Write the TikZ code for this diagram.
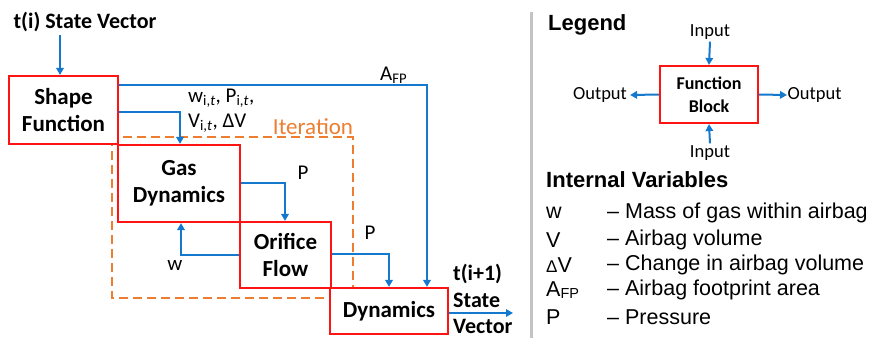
\documentclass[tikz,border=0pt]{standalone}
\usepackage{fontspec}
\setmainfont{Carlito}
\newfontfamily\arialfont{Liberation Sans}
\usetikzlibrary{arrows.meta}
\newcommand\fs[2]{\fontsize{#1bp}{#2bp}\selectfont}
\definecolor{flowblue}{RGB}{20,120,205}
\definecolor{blockred}{RGB}{255,20,20}
\definecolor{iterorange}{RGB}{237,125,49}
\definecolor{divgray}{RGB}{195,195,195}
\tikzset{
  fblock/.style={draw=blockred, line width=2.2bp, fill=white, align=center,
    font=\fs{23}{26.5}\bfseries, inner sep=0pt},
  arr/.style={draw=flowblue, line width=2bp, -{Triangle[length=7bp,width=7.5bp]}},
  lbl/.style={font=\fs{21}{25}, inner sep=0pt},
  vname/.style={font=\arialfont\fs{21.5}{25}, anchor=west, inner sep=0pt},
  ttl/.style={font=\arialfont\fs{22}{26}\bfseries, anchor=west, inner sep=0pt},
}
\begin{document}
\begin{tikzpicture}[x=1bp, y=-1bp]
\useasboundingbox (0,0) rectangle (871,338);

% iteration loop frame
\draw[iterorange, line width=2bp, dash pattern=on 9bp off 5bp] (112,137) rectangle (353,298);
\node[lbl, font=\fs{23}{26}, text=iterorange] (iter) at (313,127) {Iteration};

% function blocks
\node[fblock, minimum width=109bp, minimum height=68bp] (sf) at (63.5,110) {Shape\\Function};
\node[fblock, minimum width=122bp, minimum height=77bp] (gd) at (179,183.5) {Gas\\Dynamics};
\node[fblock, minimum width=91bp, minimum height=66bp] (of) at (285.5,255) {Orifice\\Flow};
\node[fblock, minimum width=118bp, minimum height=46bp] (dy) at (389,311) {Dynamics};

% inputs and outputs of the time step
\node[font=\fs{22}{26}\bfseries, inner sep=3bp] (ti) at (85,22) {t(i) State Vector};
\node[font=\fs{22}{26.5}\bfseries, align=left, anchor=west, inner sep=0pt] (tn) at (453,299) {t(i+1)\\State\\Vector};

% bend points of the connectors
\coordinate (cin) at (60,76);
\coordinate (cafp) at (427,85);
\coordinate (c1) at (180,112);
\coordinate (c2) at (285,183);
\coordinate (c3) at (181,255);
\coordinate (c4) at (389,254);
\coordinate (c5) at (513,313);

\draw[arr] (ti.south -| cin) -- (sf.north -| cin);
\draw[arr] (sf.east |- cafp) -- (cafp) -- (dy.north -| cafp);
\draw[arr] (sf.east |- c1) -- (c1) -- (gd.north -| c1);
\draw[arr] (gd.east |- c2) -- (c2) -- (of.north -| c2);
\draw[arr] (of.west |- c3) -- (c3) -- (gd.south -| c3);
\draw[arr] (of.east |- c4) -- (c4) -- (dy.north -| c4);
\draw[arr] (dy.east |- c5) -- (c5);

% signal labels
\node[lbl, anchor=west] (lafp) at (380,75) {A\textsubscript{FP}};
\node[lbl, anchor=west] (lw1) at (188,98) {w\textsubscript{i,\textit{t}}, P\textsubscript{i,\textit{t}},};
\node[lbl, anchor=west] (lw2) at (188,123) {V\textsubscript{i,\textit{t}}, ΔV};
\node[lbl] (lp1) at (303,173) {P};
\node[lbl] (lp2) at (370,233) {P};
\node[lbl] (lw) at (175,265) {w};

% divider
\draw[divgray, line width=3bp] (531,12) -- (531,338);

% legend
\node[ttl] (leg) at (548,25) {Legend};
\node[draw=blockred, line width=2.2bp, fill=white, align=center, font=\fs{18}{23}\bfseries,
      minimum width=98bp, minimum height=57bp, inner sep=0pt] (fb) at (709,94.5) {Function\\Block};
\node[font=\fs{18.5}{22}, inner sep=2bp] (inT) at (710,32) {Input};
\node[font=\fs{18.5}{22}, inner sep=2bp] (inB) at (710,153) {Input};
\node[font=\fs{18.5}{22}, inner sep=3bp] (outL) at (600,95) {Output};
\node[font=\fs{18.5}{22}, anchor=west, inner sep=0.5bp] (outR) at (787,95) {Output};
\draw[arr] (inT.south) -- (fb.north);
\draw[arr] (inB.north) -- (fb.south);
\draw[arr] (fb.west) -- (outL.east);
\draw[arr] (fb.east) -- (outR.west);

% internal variables
\node[ttl] (iv) at (546,180) {Internal Variables};
\node[vname] (sw) at (546,213) {w};
\node[vname] (sv) at (546,240) {V};
\node[vname] (sdv) at (546,265) {{\fs{17}{18}Δ}V};
\node[vname] (safp) at (546,290) {A\raisebox{-1.5bp}{\fs{14.5}{18}FP}};
\node[vname] (sp) at (546,317) {P};
\node[vname] (dw) at (607,213) {– Mass of gas within airbag};
\node[vname] (dv) at (607,240) {– Airbag volume};
\node[vname] (ddv) at (607,265) {– Change in airbag volume};
\node[vname] (dafp) at (607,290) {– Airbag footprint area};
\node[vname] (dp) at (607,317) {– Pressure};
\end{tikzpicture}
\end{document}
